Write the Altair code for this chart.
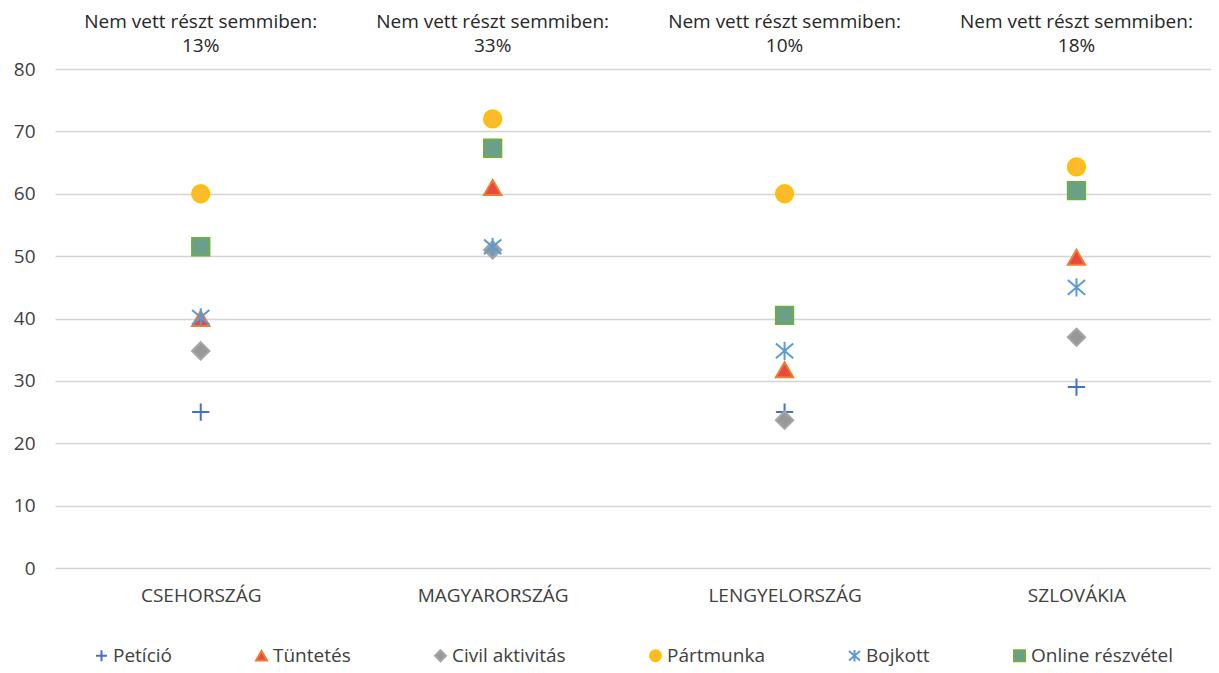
import altair as alt
import pandas as pd

countries = ["CSEHORSZÁG", "MAGYARORSZÁG", "LENGYELORSZÁG", "SZLOVÁKIA"]
none_pct = ["13%", "33%", "10%", "18%"]
series = ["Petíció", "Tüntetés", "Civil aktivitás", "Pártmunka", "Bojkott", "Online részvétel"]

peticio = [25, 51, 25, 29]
tuntetes = [40, 61, 31.8, 49.8]
civil = [34.8, 51, 23.7, 37]
partmunka = [60, 72, 60, 64.3]
bojkott = [40.2, 51.5, 34.8, 45]
online = [51.5, 67.3, 40.5, 60.5]

values = [peticio, tuntetes, civil, partmunka, bojkott, online]

stroke_colors = ["#4472C4", "#ED7D31", "#A5A5A5", "#FFC000", "#5B9BD5", "#70AD47"]
fill_colors = ["#4472C4", "#E8483E", "#989898", "#FDBB2B", "#5B9BD5", "#6A9F8A"]
shapes = [
    "M-1,0L1,0M0,-1L0,1",
    "triangle-up",
    "diamond",
    "circle",
    "M0,-1.05L0,1.05M-1,-0.85L1,0.85M-1,0.85L1,-0.85",
    "square",
]

rows = []
for si, (s, vals) in enumerate(zip(series, values)):
    for c, v in zip(countries, vals):
        rows.append({"country": c, "series": s, "value": v, "order": si})
df = pd.DataFrame(rows)

ann = pd.DataFrame({"country": countries, "line1": ["Nem vett részt semmiben:"] * 4, "pct": none_pct})

FONT = "Open Sans"
FS = 19

x = alt.X("country:N", sort=countries,
          scale=alt.Scale(type="point", padding=0.48, align=0.52),
          axis=alt.Axis(title=None, ticks=False, domain=False, labelPadding=18, labelAngle=0,
                        labelFontSize=FS, labelColor="#404040", labelFont=FONT, grid=False))

points = alt.Chart(df).mark_point(filled=False, size=300, strokeWidth=2, opacity=1).encode(
    x=x,
    y=alt.Y("value:Q", scale=alt.Scale(domain=[0, 80]),
            axis=alt.Axis(title=None, values=list(range(0, 81, 10)), ticks=False, domain=False,
                          labelFontSize=FS, labelColor="#404040", labelFont=FONT,
                          labelPadding=20, minExtent=47, maxExtent=47,
                          gridColor="#d4d4d4", gridWidth=1.5)),
    shape=alt.Shape("series:N", sort=series, scale=alt.Scale(domain=series, range=shapes), legend=alt.Legend(title=None)),
    stroke=alt.Stroke("series:N", sort=series, scale=alt.Scale(domain=series, range=stroke_colors), legend=alt.Legend(title=None)),
    fill=alt.Fill("series:N", sort=series, scale=alt.Scale(domain=series, range=fill_colors), legend=alt.Legend(title=None)),
    order=alt.Order("order:Q"),
)

t1 = alt.Chart(ann).mark_text(fontSize=FS, font=FONT, color="#262626", baseline="middle").encode(
    x=alt.X("country:N", sort=countries), y=alt.value(-47), text="line1:N")
t2 = alt.Chart(ann).mark_text(fontSize=FS, font=FONT, color="#262626", baseline="middle").encode(
    x=alt.X("country:N", sort=countries), y=alt.value(-23), text="pct:N")

chart = alt.layer(points, t1, t2).properties(
    width=1156, height=499, padding={"top": 5, "left": 0, "right": 0, "bottom": 8}
).configure_view(stroke=None).configure_legend(
    orient="none", legendX=37, legendY=577, direction="horizontal", padding=0,
    columnPadding=80, symbolSize=120, symbolStrokeWidth=2,
    labelFontSize=FS, labelFont=FONT, labelColor="#404040", labelOffset=2,
)

chart.save("out.html", embed_options={"renderer": "svg", "actions": False})
